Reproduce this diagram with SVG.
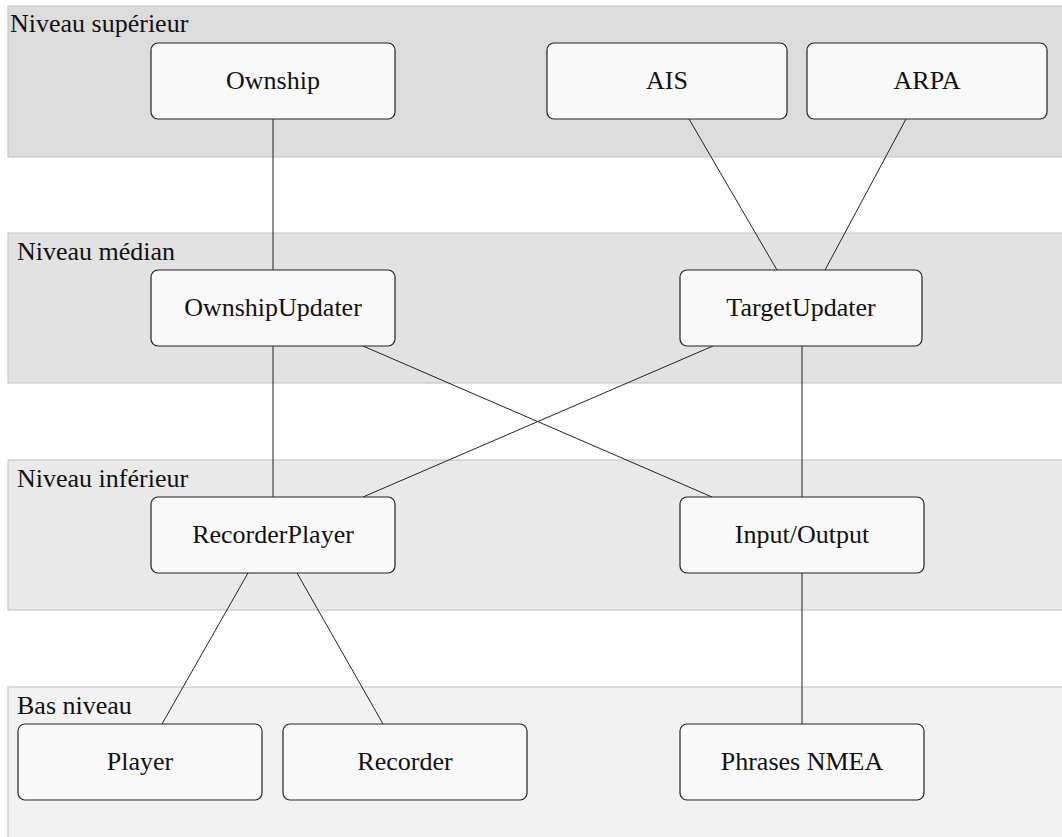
<svg xmlns="http://www.w3.org/2000/svg" width="1062" height="837" viewBox="0 0 1062 837">
<defs>
<rect id="nb" width="244" height="76" rx="7" fill="#f9f9f9" stroke="#222" stroke-width="1.2"/>
</defs>
<g id="bands" stroke="#c8c8c8" stroke-width="1.2">
<rect x="8" y="6" width="1060" height="151" fill="#dcdcdc"/>
<rect x="8" y="233" width="1060" height="150" fill="#e2e2e2"/>
<rect x="8" y="460" width="1060" height="150" fill="#e9e9e9"/>
<rect x="8" y="687" width="1060" height="155" fill="#f2f2f2"/>
</g>
<g id="band-labels" style="font-family:'Liberation Serif','Times New Roman',serif;font-size:26px" fill="#111">
<text x="10" y="32">Niveau supérieur</text>
<text x="17" y="260">Niveau médian</text>
<text x="17" y="487">Niveau inférieur</text>
<text x="17" y="714">Bas niveau</text>
</g>
<g id="edges" stroke="#222" stroke-width="1">
<line x1="273" y1="119" x2="273" y2="270"/>
<line x1="689" y1="119" x2="777" y2="270"/>
<line x1="906" y1="119" x2="825" y2="270"/>
<line x1="273" y1="346" x2="273" y2="497"/>
<line x1="802" y1="346" x2="802" y2="497"/>
<line x1="363" y1="346" x2="712" y2="497"/>
<line x1="713" y1="346" x2="363" y2="497"/>
<line x1="248" y1="573" x2="162" y2="724"/>
<line x1="297" y1="573" x2="383" y2="724"/>
<line x1="802" y1="573" x2="802" y2="724"/>
</g>
<g id="nodes" style="font-family:'Liberation Serif','Times New Roman',serif;font-size:26px" fill="#111" text-anchor="middle">
<g id="n-ownship"><use href="#nb" x="151" y="43"/><text x="273" y="89">Ownship</text></g>
<g id="n-ais"><rect x="547" y="43" width="240" height="76" rx="7" fill="#f9f9f9" stroke="#222" stroke-width="1.2"/><text x="667" y="89">AIS</text></g>
<g id="n-arpa"><rect x="807" y="43" width="240" height="76" rx="7" fill="#f9f9f9" stroke="#222" stroke-width="1.2"/><text x="927" y="89">ARPA</text></g>
<g id="n-ownshipupdater"><use href="#nb" x="151" y="270"/><text x="273" y="316">OwnshipUpdater</text></g>
<g id="n-targetupdater"><rect x="680" y="270" width="242" height="76" rx="7" fill="#f9f9f9" stroke="#222" stroke-width="1.2"/><text x="801" y="316">TargetUpdater</text></g>
<g id="n-recorderplayer"><use href="#nb" x="151" y="497"/><text x="273" y="543">RecorderPlayer</text></g>
<g id="n-io"><use href="#nb" x="680" y="497"/><text x="802" y="543">Input/Output</text></g>
<g id="n-player"><use href="#nb" x="18" y="724"/><text x="140" y="770">Player</text></g>
<g id="n-recorder"><use href="#nb" x="283" y="724"/><text x="405" y="770">Recorder</text></g>
<g id="n-nmea"><use href="#nb" x="680" y="724"/><text x="802" y="770">Phrases NMEA</text></g>
</g>
</svg>
